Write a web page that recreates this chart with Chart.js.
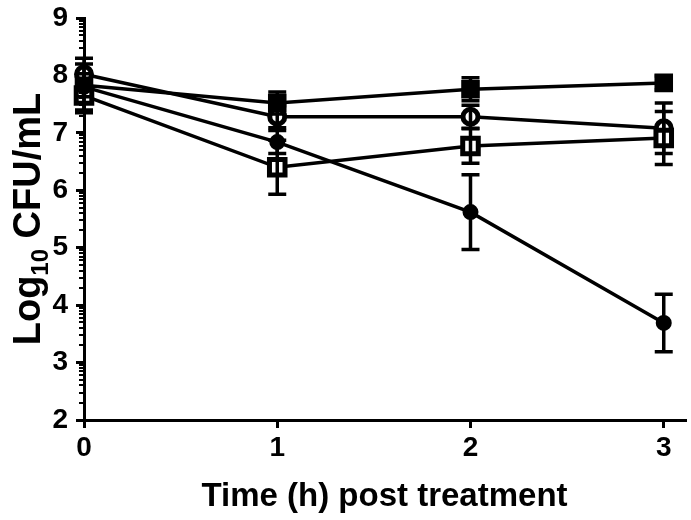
<!DOCTYPE html>
<html><head><meta charset="utf-8">
<script src="https://cdn.jsdelivr.net/npm/chart.js@4/dist/chart.umd.min.js"></script>
<style>html,body{margin:0;padding:0;background:#fff}#wrap{width:691px;height:520px}</style>
</head><body><div id="wrap"><canvas id="c" width="691" height="520"></canvas></div>
<script>
const times = [0, 1, 2, 3];
const seriesFilledSquare = [7.83, 7.52, 7.76, 7.87];
const errFilledSquare = [0.2, 0.19, 0.2, 0.12];
const seriesOpenCircle = [8.02, 7.28, 7.28, 7.08];
const errOpenCircle = [0.28, 0.19, 0.2, 0.44];
const seriesOpenSquare = [7.65, 6.40, 6.77, 6.91];
const errOpenSquare = [0.3, 0.47, 0.3, 0.46];
const seriesFilledCircle = [7.80, 6.84, 5.62, 3.69];
const errFilledCircle = [0.4, 0.2, 0.65, 0.5];
const xTickLabels = [0, 1, 2, 3];
const yTickLabels = [2, 3, 4, 5, 6, 7, 8, 9];
const xTitle = 'Time (h) post treatment';
const yTitleMain = 'Log', yTitleSub = '10', yTitleRest = ' CFU/mL';

const FONT = "'Liberation Sans', Arial, sans-serif";

function pts(vals) { return times.map((t, i) => ({ x: t, y: vals[i] })); }

function mk(label, vals, errs, style, filled, radius, bw) {
  return {
    label, data: pts(vals), errs,
    showLine: true, borderColor: '#000', borderWidth: 3.5, tension: 0,
    pointStyle: style, pointRadius: radius, pointHoverRadius: radius,
    pointBackgroundColor: filled ? '#000' : '#fff',
    pointBorderColor: '#000', pointBorderWidth: bw, clip: false
  };
}

const errorBars = {
  id: 'errorBars',
  afterDatasetsDraw(chart) {
    const ctx = chart.ctx, xs = chart.scales.x, ys = chart.scales.y;
    ctx.save();
    ctx.strokeStyle = '#000'; ctx.lineWidth = 3.5; ctx.lineCap = 'butt';
    chart.data.datasets.forEach(ds => {
      ds.data.forEach((p, i) => {
        const e = ds.errs[i];
        const px = xs.getPixelForValue(p.x);
        const top = ys.getPixelForValue(p.y + e), bot = ys.getPixelForValue(p.y - e);
        ctx.beginPath();
        ctx.moveTo(px, top); ctx.lineTo(px, bot);
        ctx.moveTo(px - 9, top); ctx.lineTo(px + 9, top);
        ctx.moveTo(px - 9, bot); ctx.lineTo(px + 9, bot);
        ctx.stroke();
      });
    });
    ctx.restore();
  }
};

const minorTicks = {
  id: 'minorTicks',
  afterDraw(chart) {
    const ctx = chart.ctx, ys = chart.scales.y, left = chart.chartArea.left;
    ctx.save();
    ctx.strokeStyle = '#000'; ctx.lineWidth = 2;
    for (let n = yTickLabels[0]; n < yTickLabels[yTickLabels.length - 1]; n++) {
      for (let k = 2; k <= 9; k++) {
        const py = Math.round(ys.getPixelForValue(n + Math.log10(k)));
        ctx.beginPath(); ctx.moveTo(left - 5, py); ctx.lineTo(left, py); ctx.stroke();
      }
    }
    ctx.restore();
  }
};

const yTitle = {
  id: 'yTitle',
  afterDraw(chart) {
    const ctx = chart.ctx, ca = chart.chartArea;
    const big = 'bold 38px ' + FONT, small = 'bold 24px ' + FONT;
    ctx.save();
    ctx.fillStyle = '#000';
    ctx.font = big; const w1 = ctx.measureText(yTitleMain).width, w3 = ctx.measureText(yTitleRest).width;
    ctx.font = small; const w2 = ctx.measureText(yTitleSub).width;
    const total = w1 + w2 + w3;
    ctx.translate(40, (ca.top + ca.bottom) / 2);
    ctx.rotate(-Math.PI / 2);
    ctx.textBaseline = 'alphabetic'; ctx.textAlign = 'left';
    let x = -total / 2;
    ctx.font = big; ctx.fillText(yTitleMain, x, 0); x += w1;
    ctx.font = small; ctx.fillText(yTitleSub, x, 8); x += w2;
    ctx.font = big; ctx.fillText(yTitleRest, x, 0);
    ctx.restore();
  }
};

new Chart(document.getElementById('c'), {
  type: 'scatter',
  data: {
    datasets: [
      mk('Filled circle', seriesFilledCircle, errFilledCircle, 'circle', true, 6.5, 3),
      mk('Open square', seriesOpenSquare, errOpenSquare, 'rect', false, 11, 5),
      mk('Open circle', seriesOpenCircle, errOpenCircle, 'circle', false, 7.5, 5),
      mk('Filled square', seriesFilledSquare, errFilledSquare, 'rect', true, 11, 3)
    ]
  },
  options: {
    responsive: false, animation: false,
    layout: { autoPadding: false, padding: { left: 0, right: 6, top: 18, bottom: 0 } },
    plugins: { legend: { display: false }, tooltip: { enabled: false } },
    scales: {
      x: {
        type: 'linear', min: 0, max: 3.11,
        afterBuildTicks: s => { s.ticks = xTickLabels.map(v => ({ value: v })); },
        afterFit: s => { s.height = 100; s.paddingLeft = 0; s.paddingRight = 0; },
        grid: { drawOnChartArea: false, drawTicks: true, tickLength: 8, lineWidth: 3, color: '#000' },
        border: { display: true, width: 3, color: '#000' },
        ticks: { color: '#000', padding: 3, font: { family: FONT, size: 28, weight: 'bold' } },
        title: { display: true, text: xTitle, color: '#000', padding: { top: 0, bottom: 3 },
                 font: { family: FONT, size: 33, weight: 'bold' } }
      },
      y: {
        type: 'linear', min: 2, max: 9,
        afterBuildTicks: s => { s.ticks = yTickLabels.map(v => ({ value: v })); },
        afterFit: s => { s.width = 84; s.paddingTop = 0; s.paddingBottom = 0; },
        grid: { drawOnChartArea: false, drawTicks: true, tickLength: 8, lineWidth: 3, color: '#000' },
        border: { display: true, width: 3, color: '#000' },
        ticks: { color: '#000', padding: 8, font: { family: FONT, size: 28, weight: 'bold' } }
      }
    }
  },
  plugins: [errorBars, minorTicks, yTitle]
});
</script></body></html>
